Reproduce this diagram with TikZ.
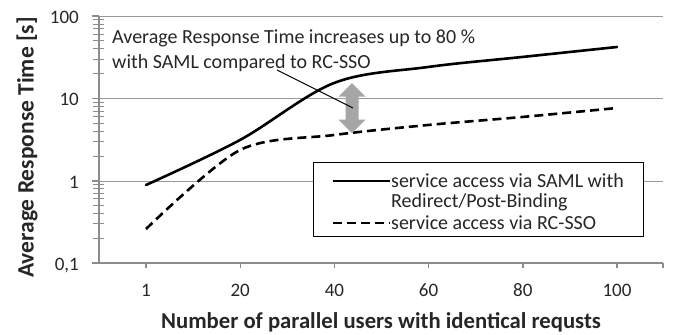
\documentclass[tikz,border=0pt]{standalone}
\usepackage{fontspec}
\setmainfont{Carlito}
\begin{document}
\begin{tikzpicture}[x=1pt, y=-1pt,
  axisline/.style={draw=black!45, line width=1.4pt},
  gridline/.style={draw=black!40, line width=1pt},
  ticktext/.style={font=\fontsize{19}{21}\selectfont, text=black!85, inner sep=0pt},
  titletext/.style={font=\fontsize{22.7}{24}\selectfont\bfseries, text=black!85, inner sep=0pt},
  notetext/.style={font=\fontsize{20}{22}\selectfont, text=black!85, inner sep=0pt, anchor=west},
  samlcurve/.style={draw=black, line width=2.6pt, line cap=round},
  ssocurve/.style={draw=black, line width=2.6pt, dash pattern=on 9pt off 5pt},
  legendbox/.style={draw=black, fill=white, line width=1pt},
  gaparrow/.style={fill=black!35, draw=none}
]
\useasboundingbox (0,0) rectangle (681,335);

% horizontal grid lines at 100, 10, 1
\foreach \yy in {16,98.5,181} \draw[gridline] (99,\yy) -- (663,\yy);

% minor log ticks on the value axis
\foreach \d in {263,181,98.5} {
  \foreach \m in {2,...,9} {
    \pgfmathsetmacro{\ty}{\d-82.3*log10(\m)}
    \draw[draw=black!45, line width=1pt] (93,\ty) -- (104,\ty);
  }
}
% major ticks
\foreach \yy in {16,98.5,181,263} \draw[axisline] (92,\yy) -- (99,\yy);

% axes
\draw[axisline] (99,16) -- (99,263) -- (663,263);
\foreach \i in {0,...,5} \draw[axisline] ({146+94.2*\i},263) -- ({146+94.2*\i},268);
\draw[axisline] (663,263) -- (663,268);

% value axis labels
\node[ticktext, anchor=east] (y100) at (79,17) {100};
\node[ticktext, anchor=east] (y10) at (79,99.5) {10};
\node[ticktext, anchor=east] (y1) at (79,182) {1};
\node[ticktext, anchor=east] (y01) at (79,266) {0,1};

% category labels
\foreach \lab [count=\i from 0] in {1,20,40,60,80,100}
  \node[ticktext] (x\i) at ({146+94.2*\i},290) {\lab};

% axis titles
\node[titletext] (xtitle) at (381,322) {Number of parallel users with identical requsts};
\node[titletext, rotate=90, font=\fontsize{23.5}{25}\selectfont\bfseries] (ytitle) at (27,147.5) {Average Response Time [s]};

% measured response times
\draw[samlcurve] plot[smooth, tension=0.55] coordinates
  {(146,185) (240,140) (334,83) (428,67) (522,57) (617,47)};
\draw[ssocurve] plot[smooth, tension=0.5] coordinates
  {(146,229) (240,150) (334,135) (428,125) (522,117) (617,108)};

% gap marker between the two curves
\coordinate (gap) at (353,108);
\fill[gaparrow] (352,83) -- (365.5,96.5) -- (358.5,96.5) -- (358.5,119.5) -- (365.5,119.5)
  -- (352,133) -- (338.5,119.5) -- (345.5,119.5) -- (345.5,96.5) -- (338.5,96.5) -- cycle;

% annotation
\node[notetext] (note1) at (112,38) {Average Response Time increases up to 80 \%};
\node[notetext] (note2) at (112,63) {with SAML compared to RC-SSO};
\coordinate (leader) at (277,70);
\draw[black, line width=1pt] (leader) -- (gap);

% legend
\draw[legendbox] (313,162) rectangle (643,236);
\coordinate (l1a) at (333,181); \coordinate (l1b) at (390,181);
\coordinate (l2a) at (333,223); \coordinate (l2b) at (390,223);
\draw[samlcurve, line cap=butt] (l1a) -- (l1b);
\draw[ssocurve] (l2a) -- (l2b);
\node[notetext] (leg1) at (391,181) {service access via SAML with};
\node[notetext] (leg1b) at (391,202) {Redirect/Post-Binding};
\node[notetext] (leg2) at (391,223) {service access via RC-SSO};
\end{tikzpicture}
\end{document}
